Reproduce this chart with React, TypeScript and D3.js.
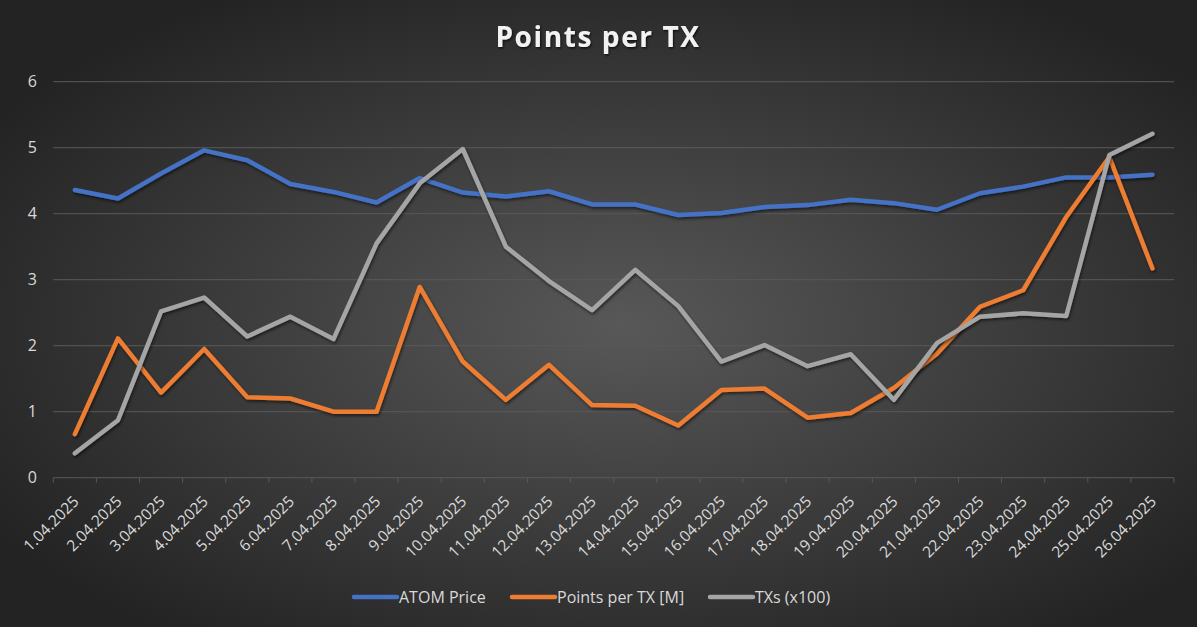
import { useEffect, useRef } from 'react';
import * as d3 from 'd3';

const dates = [
  '1.04.2025', '2.04.2025', '3.04.2025', '4.04.2025', '5.04.2025', '6.04.2025', '7.04.2025',
  '8.04.2025', '9.04.2025', '10.04.2025', '11.04.2025', '12.04.2025', '13.04.2025', '14.04.2025',
  '15.04.2025', '16.04.2025', '17.04.2025', '18.04.2025', '19.04.2025', '20.04.2025', '21.04.2025',
  '22.04.2025', '23.04.2025', '24.04.2025', '25.04.2025', '26.04.2025',
];

const atomPrice = [
  4.36, 4.23, 4.61, 4.96, 4.81, 4.45, 4.33, 4.17, 4.54, 4.32, 4.26, 4.34, 4.14,
  4.14, 3.98, 4.01, 4.10, 4.13, 4.21, 4.16, 4.06, 4.31, 4.41, 4.55, 4.55, 4.59,
];

const pointsPerTx = [
  0.66, 2.11, 1.29, 1.95, 1.22, 1.20, 1.00, 1.00, 2.89, 1.76, 1.18, 1.71, 1.10,
  1.09, 0.79, 1.33, 1.35, 0.91, 0.98, 1.36, 1.88, 2.59, 2.84, 3.95, 4.86, 3.17,
];

const txs = [
  0.37, 0.87, 2.52, 2.73, 2.14, 2.44, 2.10, 3.55, 4.46, 4.98, 3.50, 2.98, 2.54,
  3.15, 2.60, 1.76, 2.01, 1.69, 1.87, 1.18, 2.04, 2.44, 2.49, 2.45, 4.89, 5.21,
];

const yTicks = [0, 1, 2, 3, 4, 5, 6];

const seriesList = [
  { name: 'ATOM Price', values: atomPrice, color: '#4472c4' },
  { name: 'Points per TX [M]', values: pointsPerTx, color: '#ed7d31' },
  { name: 'TXs (x100)', values: txs, color: '#a5a5a5' },
];

const W = 1197;
const H = 627;
const FONT = '"Open Sans", sans-serif';

const App = () => {
  const svgRef = useRef<SVGSVGElement>(null);

  useEffect(() => {
    if (!svgRef.current) return;
    const svg = d3.select(svgRef.current);
    svg.selectAll('*').remove();

    const plot = { left: 53.3, right: 1174, top: 81.7, bottom: 477.7 };

    const defs = svg.append('defs');
    const grad = defs.append('radialGradient')
      .attr('id', 'bg')
      .attr('cx', '52%').attr('cy', '52%').attr('r', '62%');
    grad.append('stop').attr('offset', '0%').attr('stop-color', '#585858');
    grad.append('stop').attr('offset', '100%').attr('stop-color', '#232323');

    const shadow = defs.append('filter').attr('id', 'shadow')
      .attr('x', '-5%').attr('y', '-5%').attr('width', '110%').attr('height', '120%');
    shadow.append('feDropShadow')
      .attr('dx', 1).attr('dy', 2).attr('stdDeviation', 1.5)
      .attr('flood-color', '#000').attr('flood-opacity', 0.55);

    const titleShadow = defs.append('filter').attr('id', 'tshadow');
    titleShadow.append('feDropShadow')
      .attr('dx', 1).attr('dy', 1.5).attr('stdDeviation', 1)
      .attr('flood-color', '#000').attr('flood-opacity', 0.7);

    svg.append('rect').attr('width', W).attr('height', H).attr('fill', 'url(#bg)');

    const x = d3.scaleBand<string>()
      .domain(dates)
      .range([plot.left, plot.right]);

    const y = d3.scaleLinear()
      .domain([0, 6])
      .range([plot.bottom, plot.top]);

    // gridlines
    svg.append('g')
      .selectAll('line')
      .data(yTicks.filter(d => d > 0))
      .join('line')
      .attr('x1', plot.left).attr('x2', plot.right)
      .attr('y1', d => y(d)).attr('y2', d => y(d))
      .attr('stroke', '#595959').attr('stroke-width', 1);

    // y labels
    svg.append('g')
      .selectAll('text')
      .data(yTicks)
      .join('text')
      .attr('x', 37)
      .attr('y', d => y(d))
      .attr('dy', '0.35em')
      .attr('text-anchor', 'end')
      .attr('fill', '#d9d9d9')
      .style('font-family', FONT)
      .style('font-size', '16px')
      .text(d => d);

    // x axis line and ticks
    const axis = svg.append('g');
    axis.append('line')
      .attr('x1', plot.left).attr('x2', plot.right)
      .attr('y1', plot.bottom).attr('y2', plot.bottom)
      .attr('stroke', '#595959').attr('stroke-width', 1);
    axis.selectAll('line.tick')
      .data([...dates, 'end'])
      .join('line')
      .attr('class', 'tick')
      .attr('x1', (d, i) => plot.left + i * x.bandwidth())
      .attr('x2', (d, i) => plot.left + i * x.bandwidth())
      .attr('y1', plot.bottom).attr('y2', plot.bottom + 5)
      .attr('stroke', '#595959').attr('stroke-width', 1);

    // x labels
    svg.append('g')
      .selectAll('text')
      .data(dates)
      .join('text')
      .attr('transform', d => `translate(${x(d)! + x.bandwidth() / 2 + 1},${plot.bottom + 21}) rotate(-45)`)
      .attr('text-anchor', 'end')
      .attr('dy', '0.35em')
      .attr('fill', '#d9d9d9')
      .style('font-family', FONT)
      .style('font-size', '15.5px')
      .text(d => d);

    // lines
    const line = d3.line<number>()
      .x((d, i) => x(dates[i])! + x.bandwidth() / 2)
      .y(d => y(d));

    svg.append('g')
      .selectAll('path')
      .data(seriesList)
      .join('path')
      .attr('d', s => line(s.values))
      .attr('fill', 'none')
      .attr('stroke', s => s.color)
      .attr('stroke-width', 4.5)
      .attr('stroke-linejoin', 'round')
      .attr('stroke-linecap', 'round')
      .attr('filter', 'url(#shadow)');

    // title
    svg.append('text')
      .attr('x', 598)
      .attr('y', 47)
      .attr('text-anchor', 'middle')
      .attr('fill', '#f2f2f2')
      .attr('filter', 'url(#tshadow)')
      .style('font-family', FONT)
      .style('font-size', '28px')
      .style('font-weight', 'bold')
      .style('letter-spacing', '1.6px')
      .text('Points per TX');

    // legend
    const legendX = [354, 512, 710];
    const legend = svg.append('g')
      .selectAll('g')
      .data(seriesList)
      .join('g')
      .attr('transform', (d, i) => `translate(${legendX[i]},597)`);
    legend.append('line')
      .attr('x1', 0).attr('x2', 43)
      .attr('y1', 0).attr('y2', 0)
      .attr('stroke', d => d.color)
      .attr('stroke-width', 4.5)
      .attr('stroke-linecap', 'round');
    legend.append('text')
      .attr('x', 45)
      .attr('dy', '0.35em')
      .attr('fill', '#d9d9d9')
      .style('font-family', FONT)
      .style('font-size', '16px')
      .text(d => d.name);
  }, []);

  return (
    <svg
      ref={svgRef}
      width={W}
      height={H}
      style={{ position: 'absolute', left: 0, top: 0, display: 'block' }}
    />
  );
};

export default App;
